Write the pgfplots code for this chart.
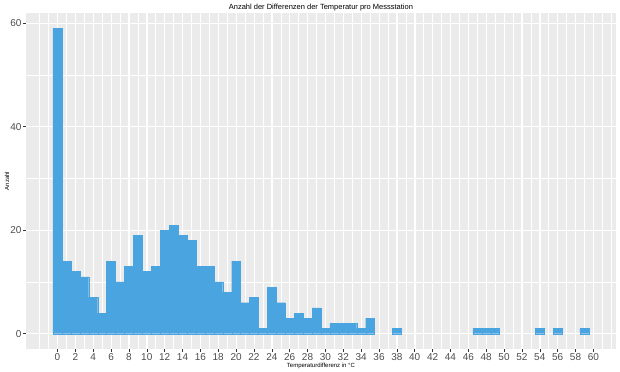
\documentclass[border=0pt]{standalone}
\usepackage{pgfplots}
\pgfplotsset{compat=1.18}
\usepackage{fontspec}
\setmainfont{Liberation Sans}
\definecolor{barblue}{RGB}{74,164,223}
\definecolor{panelgrey}{RGB}{235,235,235}
\definecolor{grey30}{RGB}{77,77,77}
\definecolor{grey20}{RGB}{51,51,51}
\begin{document}
\begin{tikzpicture}
\begin{axis}[
  set layers,
  scale only axis,
  width=589.5bp, height=336bp,
  at={(0,0)}, anchor=south west,
  xmin=-3.5, xmax=62.5, ymin=-2.95, ymax=61.95,
  axis background/.style={fill=panelgrey},
  axis line style={draw=none},
  tick pos=left,
  tick align=outside,
  major tick length=3bp,
  minor tick length=0pt,
  every tick/.style={grey20, line width=0.5bp},
  xtick={0,2,...,60},
  ytick={0,20,40,60},
  minor xtick={-2,-1,...,62},
  minor ytick={10,30,50},
  grid=both,
  major grid style={white, line width=0.9bp},
  minor grid style={white, line width=0.45bp},
  /pgf/number format/assume math mode=true,
  ticklabel style={font=\fontsize{10bp}{12bp}\selectfont, text=grey30},
  xticklabel style={inner sep=1bp, yshift=-0.5bp},
  yticklabel style={inner sep=1.5bp},
  every axis title shift=0pt,
  title={Anzahl der Differenzen der Temperatur pro Messstation},
  title style={at={(axis description cs:0.5,1.0104)}, anchor=base, font=\fontsize{7.5bp}{9bp}\selectfont, inner sep=0pt},
  xlabel={Temperaturdifferenz in °C},
  xlabel style={at={(axis description cs:0.5,-0.049)}, anchor=center, font=\fontsize{6bp}{7bp}\selectfont, inner sep=0pt},
  ylabel={Anzahl},
  ylabel style={at={(axis description cs:-0.0326,0.5)}, anchor=center, font=\fontsize{6bp}{7bp}\selectfont, inner sep=0pt},
]
\addplot[ybar, bar width=1, fill=barblue, draw=barblue, line width=0.2bp] coordinates {
(0,59) (1,14) (2,12) (3,11) (4,7) (5,4) (6,14) (7,10) (8,13) (9,19)
(10,12) (11,13) (12,20) (13,21) (14,19) (15,18) (16,13) (17,13) (18,10) (19,8)
(20,14) (21,6) (22,7) (23,1) (24,9) (25,6) (26,3) (27,4) (28,3) (29,5)
(30,1) (31,2) (32,2) (33,2) (34,1) (35,3) (38,1) (47,1) (48,1) (49,1)
(54,1) (56,1) (59,1)
};
\end{axis}
\pgfresetboundingbox
\path[use as bounding box] (-26.2bp,-23bp) rectangle (593.8bp,349bp);
\end{tikzpicture}
\end{document}
